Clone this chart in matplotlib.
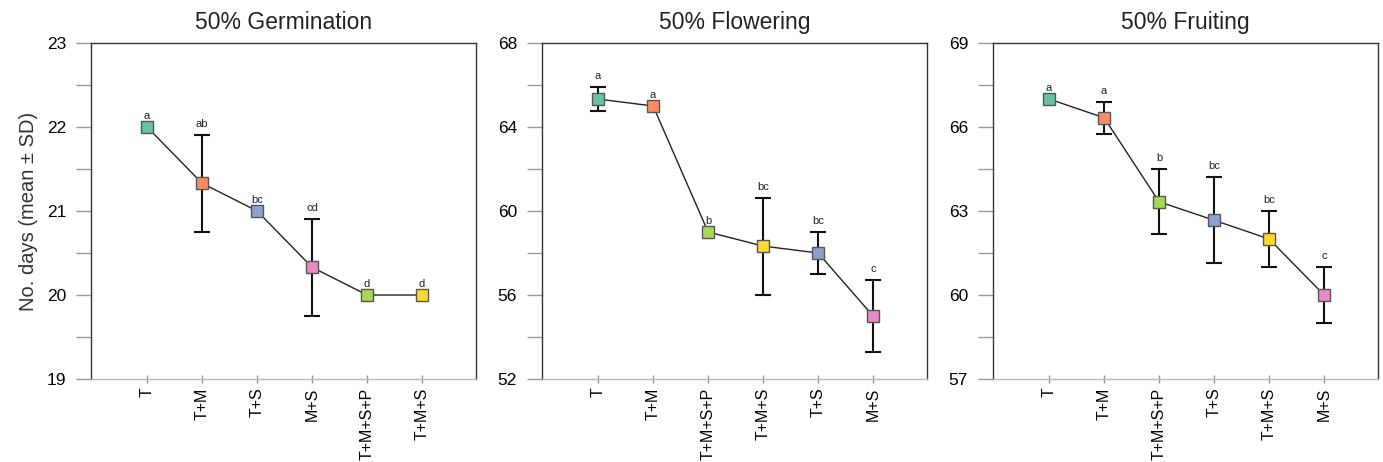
import matplotlib
matplotlib.use('Agg')
import numpy as np
import matplotlib.pyplot as plt
from matplotlib.ticker import MultipleLocator

plt.rcParams['font.family'] = ['Liberation Sans', 'DejaVu Sans']

colors = {'T': '#66c2a5', 'T+M': '#fc8d62', 'T+S': '#8da0cb', 'M+S': '#e78ac3',
          'T+M+S+P': '#a6d854', 'T+M+S': '#ffd92f'}

germ_cats = ['T', 'T+M', 'T+S', 'M+S', 'T+M+S+P', 'T+M+S']
germ_mean = [22.0, 21.33, 21.0, 20.33, 20.0, 20.0]
germ_sd = [0.0, 0.577, 0.0, 0.577, 0.0, 0.0]
germ_let = ['a', 'ab', 'bc', 'cd', 'd', 'd']

flow_cats = ['T', 'T+M', 'T+M+S+P', 'T+M+S', 'T+S', 'M+S']
flow_mean = [65.33, 65.0, 59.0, 58.33, 58.0, 55.0]
flow_sd = [0.577, 0.0, 0.0, 2.31, 1.0, 1.73]
flow_let = ['a', 'a', 'b', 'bc', 'bc', 'c']

fruit_cats = ['T', 'T+M', 'T+M+S+P', 'T+S', 'T+M+S', 'M+S']
fruit_mean = [67.0, 66.33, 63.33, 62.67, 62.0, 60.0]
fruit_sd = [0.0, 0.577, 1.155, 1.53, 1.0, 1.0]
fruit_let = ['a', 'a', 'b', 'bc', 'bc', 'c']

panels = [
    ('50% Germination', germ_cats, germ_mean, germ_sd, germ_let, (19, 23), 1),
    ('50% Flowering', flow_cats, flow_mean, flow_sd, flow_let, (52, 68), 4),
    ('50% Fruiting', fruit_cats, fruit_mean, fruit_sd, fruit_let, (57, 69), 3),
]

fig = plt.figure(figsize=(13.83, 4.62), dpi=100)
lefts = [91, 542, 993]
W, H = 1383, 462
for i, (title, cats, mean, sd, lets, ylim, step) in enumerate(panels):
    ax = fig.add_axes([lefts[i] / W, (H - 379) / H, 385 / W, 336 / H])
    x = np.arange(len(cats))
    ax.plot(x, mean, color='#222222', lw=1.0, zorder=2)
    for xi, m, s, c in zip(x, mean, sd, cats):
        if s > 0:
            ax.errorbar(xi, m, yerr=s, fmt='none', ecolor='#111111', elinewidth=1.5,
                        capsize=5.5, capthick=1.5, zorder=1)
        ax.plot(xi, m, marker='s', ms=8.5, mfc=colors[c], mec='#555555', mew=1.0, zorder=3)
    span = ylim[1] - ylim[0]
    for xi, m, s, l in zip(x, mean, sd, lets):
        ax.text(xi, m + s + span * 0.018, l, ha='center', va='bottom', fontsize=8, color='#222222')
    ax.set_xlim(-1.02, 5.98)
    ax.set_ylim(*ylim)
    ax.set_xticks(x)
    ax.set_xticklabels(cats, rotation=90, fontsize=11.5)
    ax.yaxis.set_major_locator(MultipleLocator(step))
    ax.yaxis.set_minor_locator(MultipleLocator(step / 2))
    ax.tick_params(axis='y', which='both', length=11, width=1, color='#999999', labelsize=12.5, pad=7)
    ax.tick_params(axis='x', direction='inout', length=6, width=1, color='#999999', pad=3)
    for sp in ['left', 'top', 'right']:
        ax.spines[sp].set_color('#333333')
    ax.spines['bottom'].set_color('#bbbbbb')
    for sp in ax.spines.values():
        sp.set_linewidth(1.0)
    ax.set_title(title, fontsize=16.5, pad=10, color='#222222')
    if i == 0:
        ax.set_ylabel('No. days (mean ± SD)', fontsize=14.5, labelpad=6, color='#333333')

fig.savefig('out.png', dpi=100)
